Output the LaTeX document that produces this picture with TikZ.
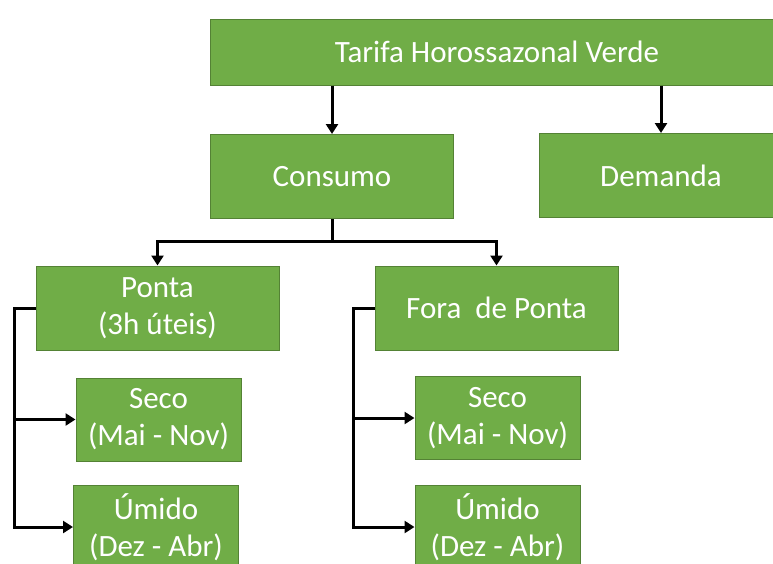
\documentclass[tikz,border=0pt]{standalone}
\usepackage{fontspec}
\setmainfont{Carlito}
\usepackage{xcolor}
\usepackage{tikz}
\usetikzlibrary{arrows.meta}
\definecolor{boxgreen}{HTML}{70AD47}
\definecolor{boxedge}{HTML}{548235}

\begin{document}
\begin{tikzpicture}[x=1pt,y=-1pt]
    \useasboundingbox (0,0) rectangle (773,563);
    \clip (0,0) rectangle (773,563);

    \tikzstyle{box}=[fill=boxgreen,draw=boxedge,line width=1pt,text=white,inner sep=0pt,align=center,font=\fontsize{31}{37}\selectfont]
    \tikzstyle{wide}=[box,minimum width=243pt,minimum height=84pt]
    \tikzstyle{small}=[box,minimum width=165pt,minimum height=83pt]

    \node[box,minimum width=574pt,minimum height=66pt] (top) at (497,52) {Tarifa Horossazonal Verde};

    \node[wide] (cons) at (332,176.5) {Consumo};
    \node[wide] (dem)  at (661,175.5) {Demanda};

    \node[wide] (pt) at (157.5,308) {Ponta\\(3h úteis)};
    \node[wide] (fp) at (496.5,308) {Fora\ \ de Ponta};

    \node[small] (pseco)  at (158.5,419.5) {Seco\\(Mai - Nov)};
    \node[small] (pumido) at (156,527) {Úmido\\(Dez - Abr)};
    \node[small] (fseco)  at (497.5,418) {Seco\\(Mai - Nov)};
    \node[small] (fumido) at (497.5,527) {Úmido\\(Dez - Abr)};

    \coordinate (split) at (332,241);
    \coordinate (lrail) at (14,308);
    \coordinate (rrail) at (353,308);

    \tikzstyle{fwd} = [draw=black, line width=3pt, -{Triangle[length=10pt,width=12pt]}]

    \draw [fwd] (top.south -| cons.north) -- (cons.north);
    \draw [fwd] (top.south -| dem.north) -- (dem.north);

    \draw [fwd] (cons.south) -- (split) -| (pt.north);
    \draw [fwd] (split) -| (fp.north);

    \draw [fwd] (pt.west) -- (lrail) |- (pseco.west);
    \draw [fwd] (lrail) |- (pumido.west);

    \draw [fwd] (fp.west) -- (rrail) |- (fseco.west);
    \draw [fwd] (rrail) |- (fumido.west);

\end{tikzpicture}
\end{document}
